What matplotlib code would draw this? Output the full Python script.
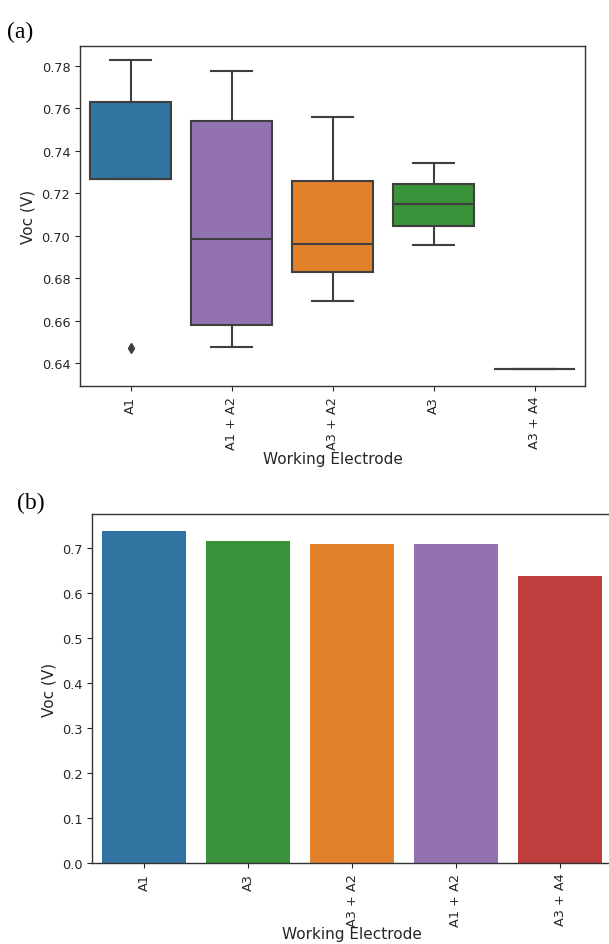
import matplotlib
matplotlib.use("Agg")
import matplotlib.pyplot as plt
import numpy as np

# ---- data ----
# (a) boxplot: Voc samples per working electrode
box_order = ["A1", "A1 + A2", "A3 + A2", "A3", "A3 + A4"]
voc_a1 = [0.647, 0.727, 0.727, 0.763, 0.783]
voc_a1_a2 = [0.6475, 0.658, 0.6987, 0.7542, 0.7775]
voc_a3_a2 = [0.6692, 0.6829, 0.6963, 0.726, 0.7561]
voc_a3 = [0.6957, 0.7048, 0.715, 0.7244, 0.7343]
voc_a3_a4 = [0.6373]

# (b) bar chart: mean Voc, sorted high to low
bar_order = ["A1", "A3", "A3 + A2", "A1 + A2", "A3 + A4"]
bar_voc = [0.7385, 0.7156, 0.7096, 0.7096, 0.6384]

# seaborn-like desaturated tab10 colours per electrode
colors = {
    "A1": "#3274a1",
    "A1 + A2": "#9372b2",
    "A3 + A2": "#e1812c",
    "A3": "#3a923a",
    "A3 + A4": "#c03d3e",
}

plt.rcParams["font.family"] = "DejaVu Sans"
tick_size = 9.3
label_size = 11
text_col = "#262626"
line_col = "#3f3f3f"

W, H = 609, 945
fig = plt.figure(figsize=(W / 100, H / 100), dpi=100)

# ---------------- panel (a) ----------------
ax1 = fig.add_axes([80 / W, 1 - 387 / H, 505 / W, 340 / H])
samples = [voc_a1, voc_a1_a2, voc_a3_a2, voc_a3, voc_a3_a4]
pos = np.arange(len(box_order))
bp = ax1.boxplot(samples, positions=pos, widths=0.8, patch_artist=True,
                 whis=1.5,
                 medianprops=dict(color=line_col, linewidth=1.5),
                 whiskerprops=dict(color=line_col, linewidth=1.5),
                 capprops=dict(color=line_col, linewidth=1.5),
                 boxprops=dict(edgecolor=line_col, linewidth=1.5),
                 flierprops=dict(marker="d", markersize=5,
                                 markerfacecolor=line_col,
                                 markeredgecolor=line_col))
for patch, name in zip(bp["boxes"], box_order):
    patch.set_facecolor(colors[name])

ax1.set_xlim(-0.5, len(box_order) - 0.5)
ax1.set_ylim(0.6293, 0.7894)
ax1.set_yticks([0.64, 0.66, 0.68, 0.70, 0.72, 0.74, 0.76, 0.78])
ax1.set_yticklabels([f"{v:.2f}" for v in ax1.get_yticks()])
ax1.set_xticks(pos)
ax1.set_xticklabels(box_order, rotation=90)
ax1.set_xlabel("Working Electrode", fontsize=label_size, color=text_col,
               labelpad=1.5)
ax1.set_ylabel("Voc (V)", fontsize=label_size, color=text_col)

# ---------------- panel (b) ----------------
ax2 = fig.add_axes([92 / W, 1 - 864 / H, 520 / W, 349 / H])
bx = np.arange(len(bar_order))
ax2.bar(bx, bar_voc, width=0.8, color=[colors[n] for n in bar_order])
ax2.set_xlim(-0.5, len(bar_order) - 0.5)
ax2.set_ylim(0, 0.7756)
ax2.set_yticks(np.arange(0, 0.75, 0.1))
ax2.set_yticklabels([f"{v:.1f}" for v in np.arange(0, 0.75, 0.1)])
ax2.set_xticks(bx)
ax2.set_xticklabels(bar_order, rotation=90)
ax2.set_xlabel("Working Electrode", fontsize=label_size, color=text_col,
               labelpad=0.5)
ax2.set_ylabel("Voc (V)", fontsize=label_size, color=text_col)

for ax in (ax1, ax2):
    ax.tick_params(labelsize=tick_size, colors=text_col, length=3.5)
    for sp in ax.spines.values():
        sp.set_color("#333333")
        sp.set_linewidth(1.0)

# panel letters
fig.text(7 / W, 1 - 38 / H, "(a)", family="Liberation Serif", fontsize=17)
fig.text(17 / W, 1 - 509 / H, "(b)", family="Liberation Serif", fontsize=17)

fig.savefig("out.png", dpi=100)
